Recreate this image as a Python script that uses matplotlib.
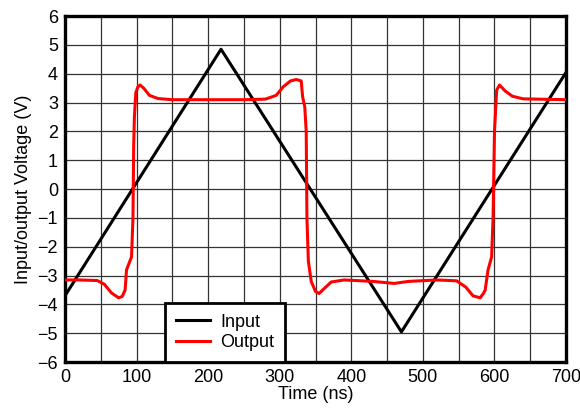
import matplotlib
matplotlib.use("Agg")
import matplotlib.pyplot as plt

plt.rcParams['font.family'] = ['Liberation Sans', 'DejaVu Sans']

# Input triangle wave
t_in = [0, 218, 470, 700]
v_in = [-3.7, 4.85, -4.95, 4.05]

# Output square-ish wave
t_out = [0, 20, 45, 55, 65, 75, 80, 84, 86, 93, 95, 96, 97, 99, 102, 105, 110, 118, 130,
         150, 200, 250, 280, 295, 305, 315, 323, 330, 332, 335, 337, 338, 340, 344, 350,
         355, 362, 372, 390, 430, 460, 480, 520, 547, 560, 570, 580, 585, 587, 591, 596,
         598, 600, 603, 607, 615, 625, 640, 700]
v_out = [-3.15, -3.15, -3.17, -3.3, -3.6, -3.77, -3.72, -3.5, -2.8, -2.35, -1.0, 1.5, 2.5,
         3.35, 3.55, 3.61, 3.5, 3.25, 3.14,
         3.1, 3.1, 3.1, 3.12, 3.25, 3.55, 3.75, 3.8, 3.75, 3.2, 2.85, 2.0, -1.0, -2.5, -3.2,
         -3.55, -3.62, -3.45, -3.22, -3.15, -3.2, -3.27, -3.2, -3.15, -3.18, -3.4, -3.7,
         -3.77, -3.6, -3.5, -2.8, -2.35, -1.0, 2.0, 3.43, 3.61, 3.4, 3.22, 3.13, 3.1]

x_ticks = [0, 100, 200, 300, 400, 500, 600, 700]
y_ticks = [-6, -5, -4, -3, -2, -1, 0, 1, 2, 3, 4, 5, 6]

fig = plt.figure(figsize=(5.8, 4.12), dpi=100)
ax = fig.add_axes([0.112, 0.121, 0.864, 0.840])

ax.plot(t_in, v_in, color='black', lw=2.2, label='Input', zorder=3)
ax.plot(t_out, v_out, color='#ff0000', lw=2.2, label='Output', zorder=3)

ax.set_xlim(0, 700)
ax.set_ylim(-6, 6)
ax.set_xticks(x_ticks)
ax.set_xticks(list(range(0, 701, 50)), minor=True)
ax.set_yticks(y_ticks)
ax.grid(True, which='both', color='#333333', lw=0.9)
ax.tick_params(which='both', length=0, labelsize=13, pad=5)

for s in ax.spines.values():
    s.set_linewidth(2.4)
    s.set_color('black')

ax.set_xlabel('Time (ns)', fontsize=13, labelpad=0)
ax.set_ylabel('Input/output Voltage (V)', fontsize=13, labelpad=4)

leg = ax.legend(loc='lower left', bbox_to_anchor=(0.2, 0.0), borderaxespad=0,
                fancybox=False, framealpha=1, edgecolor='black', fontsize=13,
                handlelength=1.9, borderpad=0.6, labelspacing=0.2, handletextpad=0.55)
leg.get_frame().set_linewidth(2)

fig.savefig('out.png', dpi=100)
